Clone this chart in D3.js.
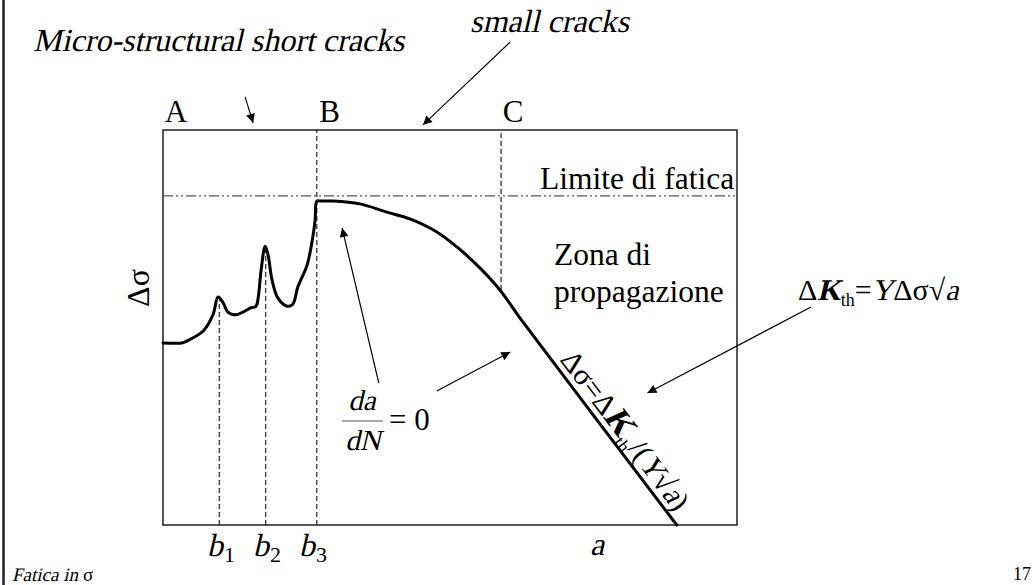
<!DOCTYPE html>
<html>
<head>
<meta charset="utf-8">
<script src="https://cdn.jsdelivr.net/npm/d3@7"></script>
<style>
  html, body { margin: 0; padding: 0; background: #fff; }
  svg { display: block; font-family: "Liberation Serif", "Times New Roman", serif; }
</style>
</head>
<body>
<svg id="chart" width="1032" height="585"></svg>
<script>
// Threshold curve Δσ(a): crack length a (0–100) vs stress range Δσ (0–100)
const crackLength = [0, 3.3, 4.2, 7.0, 8.7, 9.6, 10.5, 11.3, 12.7, 13.9, 15.2, 16.2, 16.6, 17.1, 17.8, 18.3, 19.0, 20.0, 21.6, 22.6, 23.5, 25.1, 26.1, 26.5, 26.8, 27.4, 29.6, 34.3, 39.0, 43.0, 47.7, 51.2, 55.2, 58.7, 62.2, 89.5];
const stressRange = [46.1, 46.1, 46.6, 49.1, 53.2, 57.7, 56.2, 53.9, 53.2, 53.9, 54.9, 55.4, 57.7, 64.6, 70.6, 68.4, 62.0, 57.5, 55.4, 55.9, 60.3, 65.8, 72.9, 77.2, 82.0, 82.0, 82.0, 81.3, 79.2, 77.5, 74.2, 70.4, 65.1, 59.5, 52.4, 0];

// Fatigue limit level
const fatigueLimit = 83.3;

// Vertical markers: barrier positions and region boundaries
const markerNames = ["b1", "b2", "b3", "C"];
const markerX = [9.8, 17.9, 26.8, 58.9];
const markerFrom = [0, 0, 0, 59.5];
const markerTo = [57.0, 69.5, 100, 100];

// Region letters above the frame
const regionLetters = ["A", "B", "C"];
const regionX = [0.3, 27.2, 59.2];

// Annotation arrows [x, y] in data units (arrowhead at the "to" point)
const arrowFrom = [[14.3, 108.4], [60.5, 122.3], [37.6, 35.9], [47.7, 33.9], [112.9, 55.2]];
const arrowTo = [[15.7, 101.8], [45.3, 101.3], [31.2, 75.2], [60.5, 43.8], [84.4, 33.4]];

const svg = d3.select("#chart");
const x = d3.scaleLinear().domain([0, 100]).range([163, 737]);
const y = d3.scaleLinear().domain([0, 100]).range([525, 130]);

// Writes a run of text segments one after another; italic segments are slanted serif glyphs
const SLANT = -13;
function rich(parent, x0, y0, segs, anchor) {
  const g = parent.append("g");
  let cx = 0;
  segs.forEach(s => {
    const t = g.append("text")
      .attr("font-size", s.size)
      .attr("font-weight", s.bold ? "bold" : null)
      .text(s.t);
    t.attr("transform", `translate(${cx},${s.dy || 0})` + (s.italic ? ` skewX(${SLANT})` : ""));
    cx += t.node().getComputedTextLength() + (s.gap || 0);
  });
  const shift = anchor === "middle" ? -cx / 2 : anchor === "end" ? -cx : 0;
  g.attr("transform", `translate(${x0 + shift},${y0})`);
  return g;
}

svg.append("defs").append("marker")
  .attr("id", "head")
  .attr("viewBox", "0 0 10 10")
  .attr("refX", 10).attr("refY", 5)
  .attr("markerWidth", 12).attr("markerHeight", 9)
  .attr("markerUnits", "userSpaceOnUse")
  .attr("orient", "auto")
  .append("path").attr("d", "M0,0 L10,5 L0,10 Z").attr("fill", "#000");

// Slide border on the left
svg.append("line").attr("x1", 3.5).attr("x2", 3.5).attr("y1", 0).attr("y2", 585)
  .attr("stroke", "#222").attr("stroke-width", 2.5);

// Frame
svg.append("rect")
  .attr("x", x(0)).attr("y", y(100))
  .attr("width", x(100) - x(0)).attr("height", y(0) - y(100))
  .attr("fill", "none").attr("stroke", "#111").attr("stroke-width", 1.4);

// Fatigue-limit dash-dot-dot line
svg.append("line")
  .attr("x1", x(0)).attr("x2", x(100))
  .attr("y1", y(fatigueLimit)).attr("y2", y(fatigueLimit))
  .attr("stroke", "#555").attr("stroke-width", 1.3)
  .attr("stroke-dasharray", "10,3,2,3,2,3");

// Dashed vertical markers
svg.selectAll("line.marker").data(markerX).join("line")
  .attr("class", "marker")
  .attr("x1", d => x(d)).attr("x2", d => x(d))
  .attr("y1", (d, i) => y(markerFrom[i])).attr("y2", (d, i) => y(markerTo[i]))
  .attr("stroke", "#111").attr("stroke-width", 1.1)
  .attr("stroke-dasharray", "5,3");

// Threshold curve
const curve = d3.line().x(d => x(d[0])).y(d => y(d[1])).curve(d3.curveCatmullRom.alpha(0.5));
svg.append("path")
  .datum(crackLength.map((a, i) => [a, stressRange[i]]))
  .attr("d", curve)
  .attr("fill", "none").attr("stroke", "#000").attr("stroke-width", 3)
  .attr("stroke-linejoin", "round").attr("stroke-linecap", "round");

// Annotation arrows
svg.selectAll("line.arrow").data(arrowFrom).join("line")
  .attr("class", "arrow")
  .attr("x1", d => x(d[0])).attr("y1", d => y(d[1]))
  .attr("x2", (d, i) => x(arrowTo[i][0])).attr("y2", (d, i) => y(arrowTo[i][1]))
  .attr("stroke", "#000").attr("stroke-width", 1.2)
  .attr("marker-end", "url(#head)");

// Region letters
svg.selectAll("text.region").data(regionLetters).join("text")
  .attr("class", "region")
  .attr("x", (d, i) => x(regionX[i])).attr("y", 122)
  .attr("font-size", 31).text(d => d);

// Top annotations
rich(svg, 33, 51, [{ t: "Micro-structural short cracks", size: 32, italic: true }]);
rich(svg, 470, 32, [{ t: "small cracks", size: 32, italic: true }]);

svg.append("text").attr("x", 540).attr("y", 189).attr("font-size", 31.5).text("Limite di fatica");
svg.append("text").attr("x", 554).attr("y", 265).attr("font-size", 31.5).text("Zona di");
svg.append("text").attr("x", 554).attr("y", 302).attr("font-size", 31.5).text("propagazione");

// Threshold relation
rich(svg, 798, 300, [
  { t: "Δ", size: 30 },
  { t: "K", size: 30, bold: true, italic: true },
  { t: "th", size: 18, dy: 6 },
  { t: "=", size: 30 },
  { t: "Y", size: 30, italic: true },
  { t: "Δσ√", size: 30 },
  { t: "a", size: 30, italic: true }
]);

// Label along the straight branch of the curve
{
  const n = crackLength.length;
  const ax = x(crackLength[n - 2]), ay = y(stressRange[n - 2]);
  const bx = x(crackLength[n - 1]), by = y(stressRange[n - 1]);
  const ang = Math.atan2(by - ay, bx - ax);
  const t = 0.22;
  const px = ax + (bx - ax) * t, py = ay + (by - ay) * t;
  const g = svg.append("g")
    .attr("transform", `translate(${px},${py}) rotate(${ang * 180 / Math.PI})`);
  rich(g, 0, -6, [
    { t: "Δσ=Δ", size: 30 },
    { t: "K", size: 34, bold: true, italic: true },
    { t: "th", size: 18, dy: 7 },
    { t: "/(", size: 30 },
    { t: "Y", size: 30, italic: true },
    { t: "√", size: 30 },
    { t: "a", size: 30, italic: true },
    { t: ")", size: 30 }
  ]);
}

// da/dN = 0
rich(svg, 362, 410, [{ t: "da", size: 29, italic: true }], "middle");
svg.append("line").attr("x1", 342).attr("x2", 383).attr("y1", 421).attr("y2", 421)
  .attr("stroke", "#555").attr("stroke-width", 1.2);
rich(svg, 363, 450, [{ t: "dN", size: 29, italic: true }], "middle");
svg.append("text").attr("x", 389).attr("y", 430).attr("font-size", 31).text("= 0");

// Y label
svg.append("text")
  .attr("transform", "translate(149,288) rotate(-90)")
  .attr("text-anchor", "middle").attr("font-size", 32).text("Δσ");

// Bottom labels b1, b2, b3 and a
const bLabelX = [207, 253, 299];
bLabelX.forEach((bx, i) => {
  rich(svg, bx, 556, [
    { t: "b", size: 32, italic: true, gap: 1 },
    { t: String(i + 1), size: 22, dy: 6 }
  ]);
});
rich(svg, 590, 555, [{ t: "a", size: 32, italic: true }]);

// Footer
rich(svg, 12, 581, [
  { t: "Fatica in", size: 19, italic: true, gap: 5 },
  { t: "σ", size: 19 }
]);
svg.append("text").attr("x", 1031).attr("y", 580).attr("font-size", 18)
  .attr("text-anchor", "end").text("17");
</script>
</body>
</html>
